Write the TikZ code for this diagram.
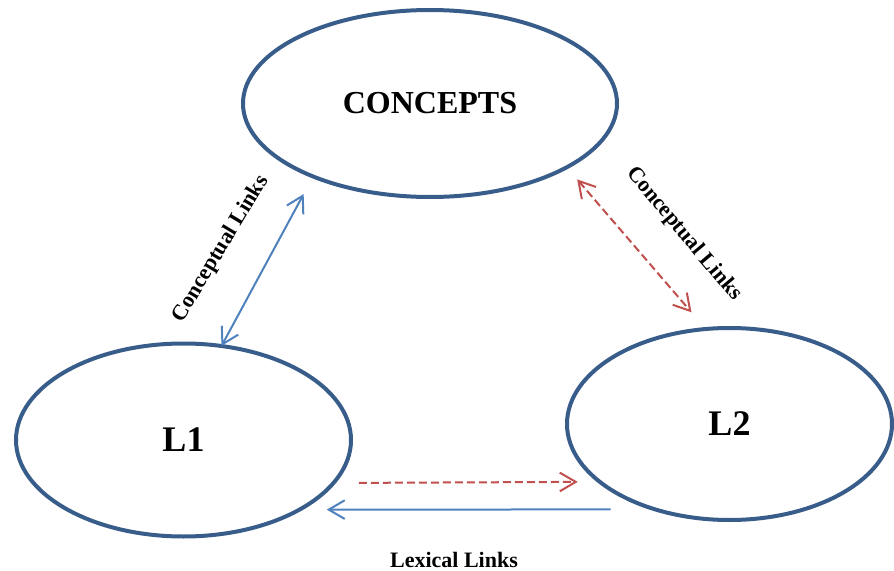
\documentclass[tikz,border=0pt]{standalone}
\usepackage{fontspec}
\setmainfont{Liberation Serif}
\usetikzlibrary{shapes.geometric,arrows.meta}
\definecolor{ringblue}{HTML}{385D8A}
\definecolor{linkblue}{HTML}{4F81BD}
\definecolor{linkred}{HTML}{C0504D}
\begin{document}
\begin{tikzpicture}[x=0.75pt,y=-0.75pt,
  bubble/.style={ellipse,draw=ringblue,line width=3pt,inner sep=0pt,outer sep=0pt,
    font=\bfseries\fontsize{27}{30}\selectfont},
  >={Straight Barb[length=12pt,width=14pt]},
  bluelink/.style={draw=linkblue,line width=1.5pt},
  redlink/.style={draw=linkred,line width=1.5pt,dash pattern=on 6pt off 3pt},
  linklabel/.style={font=\bfseries\fontsize{16.5}{19}\selectfont,inner sep=0pt}
]
\useasboundingbox (0,0) rectangle (894,571);

% the three stores
\node[bubble,minimum width=280.5pt,minimum height=140.25pt,
      font=\bfseries\fontsize{24}{28}\selectfont] (concepts) at (430,103.5) {CONCEPTS};
\node[bubble,minimum width=251.25pt,minimum height=144.75pt] (lone) at (183.5,440) {L1};
\node[bubble,minimum width=243.75pt,minimum height=144pt] (ltwo) at (729.5,424) {L2};

% conceptual links
\draw[bluelink,<->,shorten >=15pt] (lone.68) -- (concepts.212);
\draw[redlink,<->,shorten <=12pt,shorten >=16.5pt] (concepts.335.5) -- (ltwo.104);

% lexical links
\draw[redlink,->,shorten <=19pt,shorten >=16.5pt] (lone.344.5) -- (ltwo.204);
\draw[bluelink,->,shorten <=33.5pt,shorten >=20.5pt] (ltwo.229.6) -- (lone.329);

% link labels
\node[linklabel,rotate=59] (cl1) at (221,249) {Conceptual Links};
\node[linklabel,rotate=-50] (cl2) at (684,234) {Conceptual Links};
\node[linklabel] (lex) at (454,560) {Lexical Links};
\end{tikzpicture}
\end{document}
